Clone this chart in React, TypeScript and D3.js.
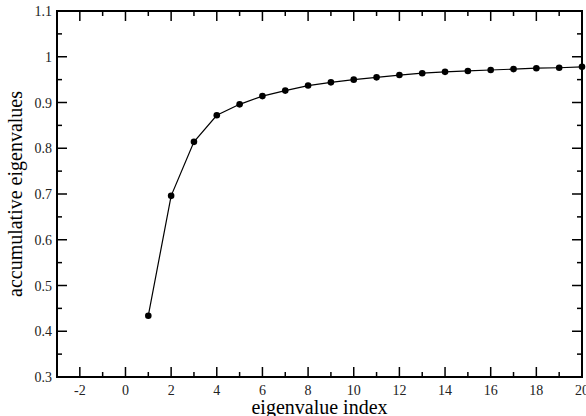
import React from "react";
import * as d3 from "d3";

const indices = [1, 2, 3, 4, 5, 6, 7, 8, 9, 10, 11, 12, 13, 14, 15, 16, 17, 18, 19, 20];
const values = [0.434, 0.696, 0.814, 0.872, 0.896, 0.914, 0.926, 0.937, 0.944, 0.950, 0.955, 0.960, 0.964, 0.967, 0.969, 0.971, 0.973, 0.975, 0.976, 0.978];
const xTicks = [-2, 0, 2, 4, 6, 8, 10, 12, 14, 16, 18, 20];
const yTicks = [0.3, 0.4, 0.5, 0.6, 0.7, 0.8, 0.9, 1, 1.1];

const W = 586, H = 416;
const L = 57, R = 582, T = 11, B = 377;

export default function App() {
  const x = d3.scaleLinear().domain([-3, 20]).range([L, R]);
  const y = d3.scaleLinear().domain([0.3, 1.1]).range([B, T]);
  const line = d3.line<number>().x((_, i) => x(indices[i])).y((d) => y(d));
  const xMinor = d3.range(-3, 21, 1).filter((v) => v % 2 !== 0);
  const yMinor = d3.range(0, 8).map((i) => 0.35 + i * 0.1);
  const font = "'Liberation Serif', 'Times New Roman', serif";
  return (
    <svg width={W} height={H} style={{ position: "absolute", left: 0, top: 0 }} fontFamily={font}>
      <rect x={0} y={0} width={W} height={H} fill="#fff" />
      {xTicks.map((t) => (
        <g key={"xt" + t}>
          <line x1={x(t)} x2={x(t)} y1={B} y2={B - 10} stroke="#000" strokeWidth={1.5} />
          <line x1={x(t)} x2={x(t)} y1={T} y2={T + 10} stroke="#000" strokeWidth={1.5} />
          <text x={x(t)} y={395} fontSize={14} textAnchor="middle" fill="#222">{t}</text>
        </g>
      ))}
      {xMinor.map((t) => (
        <g key={"xm" + t}>
          <line x1={x(t)} x2={x(t)} y1={B} y2={B - 5} stroke="#000" strokeWidth={1.5} />
          <line x1={x(t)} x2={x(t)} y1={T} y2={T + 5} stroke="#000" strokeWidth={1.5} />
        </g>
      ))}
      {yTicks.map((t) => (
        <g key={"yt" + t}>
          <line x1={L} x2={L + 10} y1={y(t)} y2={y(t)} stroke="#000" strokeWidth={1.5} />
          <line x1={R} x2={R - 10} y1={y(t)} y2={y(t)} stroke="#000" strokeWidth={1.5} />
          <text x={52} y={y(t) + 5} fontSize={14} textAnchor="end" fill="#222">{t}</text>
        </g>
      ))}
      {yMinor.map((t) => (
        <g key={"ym" + t}>
          <line x1={L} x2={L + 5} y1={y(t)} y2={y(t)} stroke="#000" strokeWidth={1.5} />
          <line x1={R} x2={R - 5} y1={y(t)} y2={y(t)} stroke="#000" strokeWidth={1.5} />
        </g>
      ))}
      <rect x={L} y={T} width={R - L} height={B - T} fill="none" stroke="#000" strokeWidth={2} />
      <path d={line(values) || ""} fill="none" stroke="#000" strokeWidth={1.2} />
      {values.map((v, i) => (
        <circle key={"p" + i} cx={x(indices[i])} cy={y(v)} r={3.3} fill="#000" />
      ))}
      <text x={(L + R) / 2} y={414} fontSize={20} textAnchor="middle" fill="#000">eigenvalue index</text>
      <text transform={`translate(22, ${(T + B) / 2}) rotate(-90)`} fontSize={20} textAnchor="middle" fill="#000">accumulative eigenvalues</text>
    </svg>
  );
}
